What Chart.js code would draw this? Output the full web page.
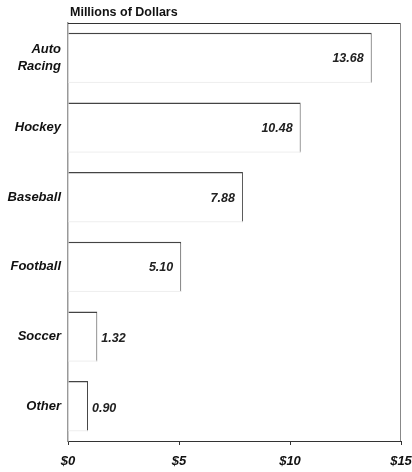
<!DOCTYPE html>
<html>
<head>
<meta charset="utf-8">
<script src="https://cdn.jsdelivr.net/npm/chart.js@4"></script>
<style>
  html, body { margin: 0; padding: 0; background: #fff; }
  #wrap { width: 412px; height: 472px; }
</style>
</head>
<body>
<div id="wrap"><canvas id="chart" width="412" height="472"></canvas></div>
<script>
const categories = [['Auto', 'Racing'], 'Hockey', 'Baseball', 'Football', 'Soccer', 'Other'];
const revenue = [13.68, 10.48, 7.88, 5.10, 1.32, 0.90];
const xTicks = [0, 5, 10, 15];
const axisTitle = 'Millions of Dollars';

const FONT = "'Liberation Sans', Arial, sans-serif";

// title above plot, plus top/right frame lines
const framePlugin = {
    id: 'frame',
    beforeDatasetsDraw(chart) {
        const { ctx, chartArea: a } = chart;
        ctx.save();
        ctx.lineWidth = 1;
        ctx.strokeStyle = '#333';
        ctx.beginPath();
        ctx.moveTo(a.left, a.top + 0.5);
        ctx.lineTo(a.right, a.top + 0.5);
        ctx.stroke();
        ctx.strokeStyle = '#888';
        ctx.beginPath();
        ctx.moveTo(a.right - 0.5, a.top);
        ctx.lineTo(a.right - 0.5, a.bottom);
        ctx.stroke();
        ctx.restore();
    },
    afterDraw(chart) {
        const { ctx, chartArea: a } = chart;
        ctx.save();
        ctx.font = 'bold 12.5px ' + FONT;
        ctx.fillStyle = '#111';
        ctx.textAlign = 'left';
        ctx.textBaseline = 'middle';
        ctx.fillText(axisTitle, a.left + 2, 13);
        ctx.restore();
    }
};

// value labels on bar ends
const valuePlugin = {
    id: 'values',
    afterDatasetsDraw(chart) {
        const { ctx } = chart;
        const meta = chart.getDatasetMeta(0);
        ctx.save();
        ctx.font = 'italic bold 12.5px ' + FONT;
        ctx.fillStyle = '#222';
        ctx.textBaseline = 'middle';
        meta.data.forEach((bar, i) => {
            const v = revenue[i];
            const txt = v.toFixed(2);
            if (v > 3) {
                ctx.textAlign = 'right';
                ctx.fillText(txt, bar.x - 8, bar.y + 1);
            } else {
                ctx.textAlign = 'left';
                ctx.fillText(txt, bar.x + 4, bar.y + 2);
            }
            // faint bottom edge
            ctx.strokeStyle = '#eee';
            ctx.lineWidth = 1;
            ctx.beginPath();
            ctx.moveTo(bar.base, bar.y + bar.height / 2 - 0.5);
            ctx.lineTo(bar.x, bar.y + bar.height / 2 - 0.5);
            ctx.stroke();
        });
        ctx.restore();
    }
};

new Chart(document.getElementById('chart'), {
    type: 'bar',
    data: {
        labels: categories,
        datasets: [{
            data: revenue,
            backgroundColor: '#fff',
            borderColor: '#444',
            borderWidth: { top: 1.5, right: 1, bottom: 0, left: 0 },
            borderSkipped: false,
            barPercentage: 0.72,
            categoryPercentage: 1
        }]
    },
    plugins: [framePlugin, valuePlugin],
    options: {
        indexAxis: 'y',
        responsive: false,
        animation: false,
        layout: { padding: { left: 0, right: 11, top: 23, bottom: 0 } },
        plugins: { legend: { display: false }, tooltip: { enabled: false } },
        scales: {
            x: {
                min: 0,
                max: 15,
                afterBuildTicks: scale => { scale.ticks = xTicks.map(v => ({ value: v })); },
                afterFit: scale => {
                    scale.height = 31;
                    scale.paddingLeft = 0;
                    scale.paddingRight = 0;
                },
                grid: { drawOnChartArea: false, drawTicks: true, tickLength: 4, color: '#333' },
                border: { display: true, color: '#333', width: 1 },
                ticks: {
                    padding: 9,
                    maxRotation: 0,
                    color: '#111',
                    font: { family: FONT, size: 13, weight: 'bold', style: 'italic' },
                    callback: v => '$' + v
                }
            },
            y: {
                afterFit: scale => {
                    scale.width = 68;
                    scale.paddingTop = 0;
                    scale.paddingBottom = 0;
                },
                grid: { display: false, drawTicks: false },
                border: { display: true, color: '#999', width: 1.5 },
                ticks: {
                    padding: 7,
                    color: '#111',
                    font: { family: FONT, size: 13, weight: 'bold', style: 'italic', lineHeight: 1.25 }
                }
            }
        }
    }
});
</script>
</body>
</html>
